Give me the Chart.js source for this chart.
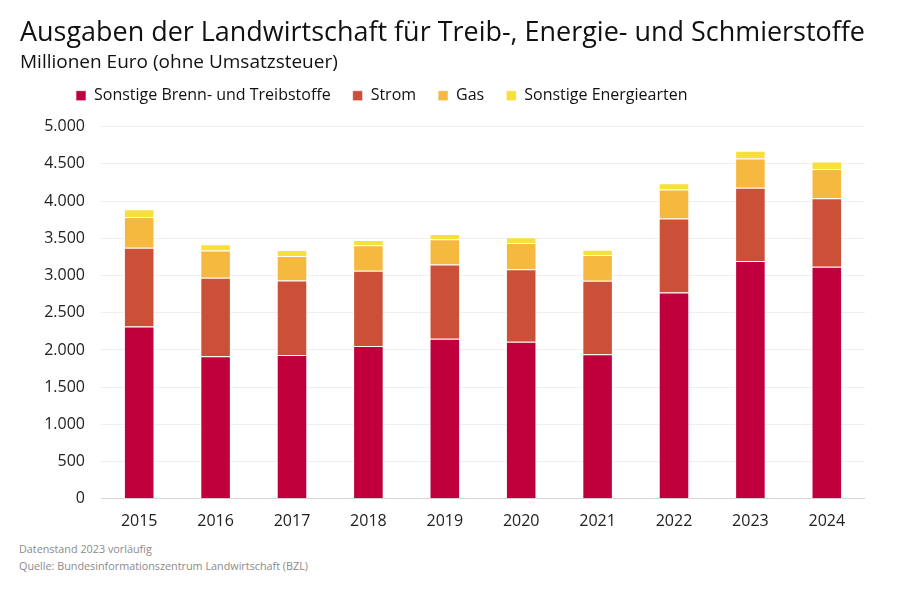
<!DOCTYPE html>
<html lang="de">
<head>
<meta charset="utf-8">
<script src="https://cdn.jsdelivr.net/npm/chart.js@4.4.1/dist/chart.umd.min.js"></script>
<style>
  html, body { margin: 0; padding: 0; background: #fff; }
  #wrap { position: relative; width: 900px; height: 590px; }
  #footer {
    position: absolute; left: 19px; top: 540px;
    font-family: "Open Sans", "Noto Sans", sans-serif;
    font-size: 10.8px; line-height: 17px; color: #8a8a8a;
  }
</style>
</head>
<body>
<div id="wrap">
  <canvas id="chart" width="900" height="536"></canvas>
  <div id="footer">Datenstand 2023 vorläufig<br>Quelle: Bundesinformationszentrum Landwirtschaft (BZL)</div>
</div>
<script>
// Werte in Mio. Euro
const years = ["2015", "2016", "2017", "2018", "2019", "2020", "2021", "2022", "2023", "2024"];
const brennTreib = [2314, 1914, 1931, 2053, 2152, 2111, 1941, 2772, 3194, 3117];
const strom = [1059, 1055, 1003, 1010, 997, 975, 988, 993, 984, 922];
const gas = [414, 369, 327, 343, 337, 351, 346, 390, 395, 391];
const sonstige = [104, 81, 81, 71, 72, 76, 71, 86, 104, 102];
const yTicks = [0, 500, 1000, 1500, 2000, 2500, 3000, 3500, 4000, 4500, 5000];

const font = "'Open Sans', 'Noto Sans', sans-serif";

function fmt(v) {
    return String(v).replace(/\B(?=(\d{3})+(?!\d))/g, ".");
}

// Legende verschieben wie im Original
const legendShift = {
    id: 'legendShift',
    afterLayout: function (chart) {
        chart.legend.left += 34;
        chart.legend.right += 34;
        chart.legend.top -= 13;
        chart.legend.bottom -= 13;
    }
};

const ctx = document.getElementById("chart").getContext("2d");
const myChart = new Chart(ctx, {
    type: "bar",
    data: {
        labels: years,
        datasets: [
            { label: "Sonstige Brenn- und Treibstoffe", data: brennTreib, backgroundColor: "#C0003C" },
            { label: "Strom", data: strom, backgroundColor: "#CB5037" },
            { label: "Gas", data: gas, backgroundColor: "#F6B93F" },
            { label: "Sonstige Energiearten", data: sonstige, backgroundColor: "#F8E03A" }
        ].map(function (d) {
            d.borderColor = "rgba(255,255,255,0.6)";
            d.borderWidth = 1;
            d.barPercentage = 0.8;
            d.categoryPercentage = 0.5;
            return d;
        })
    },
    options: {
        responsive: false,
        animation: false,
        layout: { padding: { left: 20, right: 35, top: 17, bottom: 0 } },
        plugins: {
            title: {
                display: true,
                text: "Ausgaben der Landwirtschaft für Treib-, Energie- und Schmierstoffe",
                align: "start",
                color: "#111",
                font: { family: font, size: 27, weight: "normal" },
                padding: { top: 0, bottom: 1.5 }
            },
            subtitle: {
                display: true,
                text: "Millionen Euro (ohne Umsatzsteuer)",
                align: "start",
                color: "#111",
                font: { family: font, size: 19, weight: "normal" },
                padding: { top: 0, bottom: 5 }
            },
            legend: {
                position: "top",
                align: "start",
                labels: {
                    boxWidth: 10,
                    boxHeight: 10,
                    padding: 22,
                    color: "#111",
                    font: { family: font, size: 16 }
                }
            },
            tooltip: { enabled: false }
        },
        scales: {
            x: {
                stacked: true,
                grid: { display: false },
                border: { display: false },
                ticks: { color: "#222", font: { family: font, size: 16 }, padding: 5 }
            },
            y: {
                stacked: true,
                min: 0,
                max: 5000,
                afterBuildTicks: function (scale) {
                    scale.ticks = yTicks.map(function (v) { return { value: v }; });
                },
                afterFit: function (scale) { scale.width = 81; },
                grid: {
                    drawTicks: false,
                    color: function (c) { return c.tick && c.tick.value === 0 ? "#d6d6d6" : "#efefef"; }
                },
                border: { display: false },
                ticks: {
                    color: "#222",
                    padding: 16,
                    font: { family: font, size: 16 },
                    callback: function (v) { return fmt(v); }
                }
            }
        }
    },
    plugins: [legendShift]
});
</script>
</body>
</html>
